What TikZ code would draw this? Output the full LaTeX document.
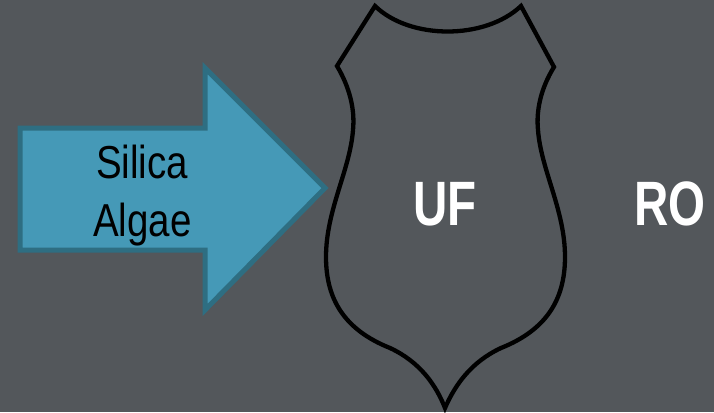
\documentclass[tikz,border=0pt]{standalone}
\usepackage{fontspec}
\setmainfont{Liberation Sans}
\usepackage{graphicx}
\definecolor{bg}{RGB}{83,87,91}
\definecolor{arrowfill}{RGB}{69,153,183}
\definecolor{arrowline}{RGB}{46,110,130}
\tikzset{
  bigarrow/.style={fill=arrowfill, draw=arrowline, line width=5pt, line join=miter},
  shieldline/.style={draw=black, line width=4.3pt, line join=miter},
  labeltxt/.style={text=black, inner sep=0pt, font=\fontsize{38.5}{45}\selectfont},
  memtxt/.style={text=white, inner sep=0pt, font=\fontsize{47.5}{55}\selectfont\bfseries},
}
\begin{document}
\begin{tikzpicture}[x=1pt,y=-1pt]
\fill[bg] (0,0) rectangle (714,412);
\useasboundingbox (0,0) rectangle (714,412);
% arrow
\draw[bigarrow] (20,128) -- (205,128) -- (205,68) -- (325,188) -- (205,310) -- (205,250) -- (20,250) -- cycle;
\node[labeltxt, anchor=base] (silica) at (142,178) {\scalebox{1}[1.2]{Silica}};
\node[labeltxt, anchor=base] (algae) at (142.5,236) {\scalebox{1}[1.2]{Algae}};
% shield
\draw[shieldline] (375,6) .. controls (410,40) and (485,40) .. (521,6)
  -- (554,67) .. controls (541,88) and (536,110) .. (538,130)
  .. controls (541,170) and (565,210) .. (565,257)
  .. controls (565,300) and (546,330) .. (501,348)
  .. controls (471,362) and (455,385) .. (445,408)
  .. controls (436,385) and (420,362) .. (390,348)
  .. controls (345,330) and (326,300) .. (326,257)
  .. controls (326,210) and (350,170) .. (353,130)
  .. controls (355,110) and (350,88) .. (337,66) -- cycle;
\node[memtxt, anchor=base west] (uf) at (413,225) {\scalebox{1}[1.32]{UF}};
\node[memtxt, anchor=base west] (ro) at (634,225) {\scalebox{1}[1.32]{RO}};
\end{tikzpicture}
\end{document}
